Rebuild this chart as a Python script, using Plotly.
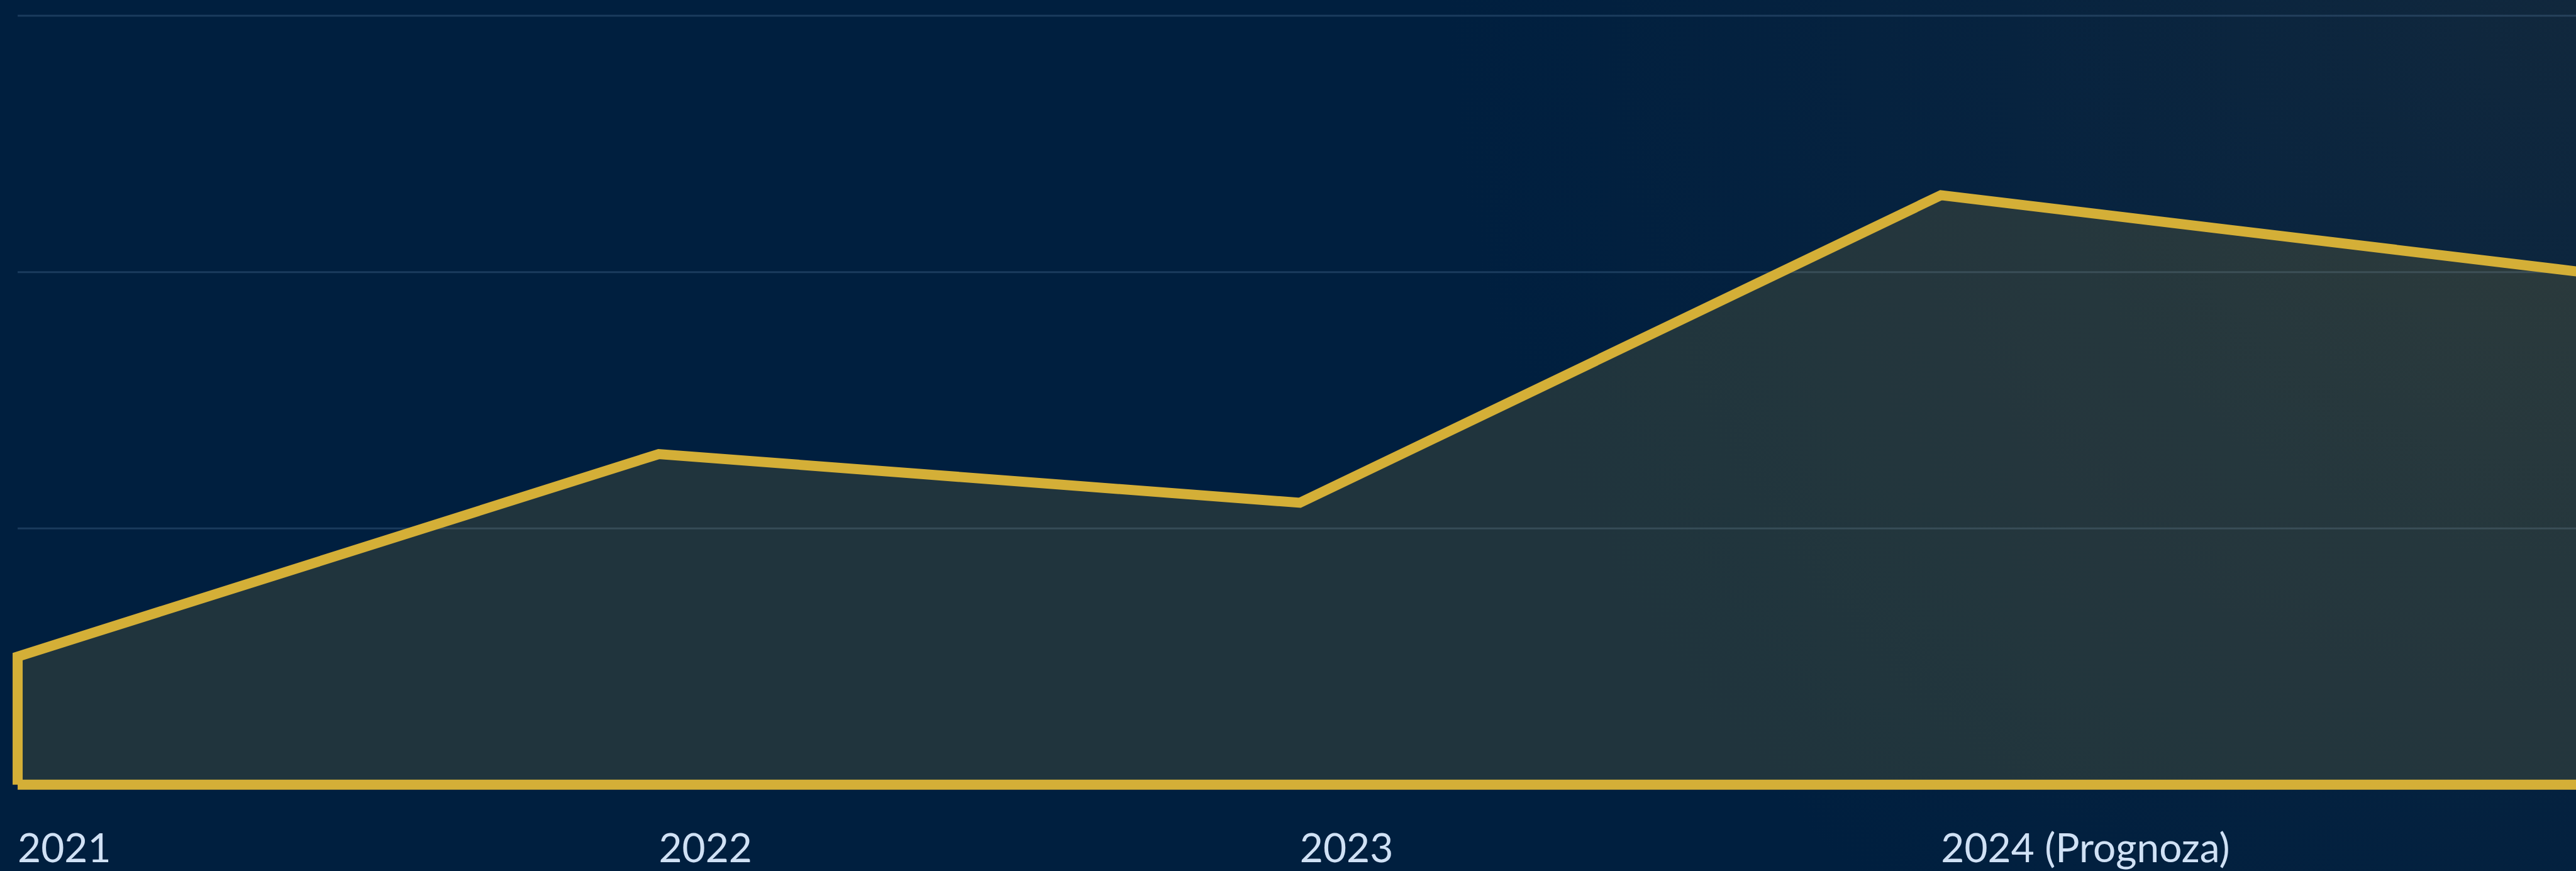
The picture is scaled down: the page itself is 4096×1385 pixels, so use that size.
import base64
import plotly.graph_objects as go

# ---- data ----
categories = ["2021", "2022", "2023", "2024 (Prognoza)", "2025 (Prognoza)"]
values = [5.0, 12.9, 11.0, 23.0, 20.0]
grid_values = [0, 10, 20, 30]

# ---- styling ----
S = 0.85
W, H = 4096, 1385
BG = "#001F3F"
GOLD = "#D4AF37"
FILL = "rgba(212,175,55,0.15)"
GRID = "rgba(120,160,200,0.22)"
LABEL = "#D0E1F5"

idx = list(range(len(categories)))
# closed outline: baseline -> values -> back to baseline
poly_x = [idx[0]] + idx + [idx[-1], idx[0]]
poly_y = [0] + values + [0, 0]

fig = go.Figure()
fig.add_trace(go.Scatter(
    x=poly_x, y=poly_y, mode="lines", fill="toself", fillcolor=FILL,
    line=dict(color=GOLD, width=16), hoverinfo="skip", showlegend=False,
))

for g in grid_values:
    fig.add_shape(type="line", xref="x", yref="y", x0=idx[0], x1=idx[-1] + 1,
                  y0=g, y1=g, line=dict(color=GRID, width=3), layer="below")

# background soft glow (top right)
svg = f'''<svg xmlns="http://www.w3.org/2000/svg" width="{W}" height="{H}" viewBox="0 0 {W} {H}" preserveAspectRatio="none">
<defs><radialGradient id="g" gradientUnits="userSpaceOnUse" cx="{W}" cy="0" r="1800">
<stop offset="0" stop-color="#11283D"/><stop offset="0.5" stop-color="#07233F"/><stop offset="1" stop-color="{BG}"/>
</radialGradient></defs><rect width="{W}" height="{H}" fill="url(#g)"/></svg>'''
src = "data:image/svg+xml;base64," + base64.b64encode(svg.encode()).decode()

plot_bottom = 1300
px_per_unit = 479.5 * S / 10
base_px = 1468 * S
y_top = base_px / px_per_unit
y_bot = (base_px - plot_bottom) / px_per_unit
step_px = 1199.3 * S
x0_px = 33 * S
x_left = -x0_px / step_px
x_right = (W - x0_px) / step_px

fig.add_layout_image(dict(source=src, xref="paper", yref="paper", x=0, y=1,
                          sizex=1, sizey=H / plot_bottom, sizing="stretch",
                          xanchor="left", yanchor="top", layer="below"))

fig.update_layout(
    width=W, height=H, autosize=False,
    margin=dict(l=0, r=0, t=0, b=H - plot_bottom, pad=0, autoexpand=False),
    paper_bgcolor=BG, plot_bgcolor="rgba(0,0,0,0)",
    xaxis=dict(range=[x_left, x_right], tickvals=idx[:4], ticktext=categories[:4],
               showgrid=False, zeroline=False, showline=False, ticks="",
               automargin=False,
               ticklabelposition="outside right", ticklabelstandoff=6,
               tickfont=dict(family="Lato", size=64, color=LABEL, weight=400)),
    yaxis=dict(range=[y_bot, y_top], showgrid=False, zeroline=False, automargin=False,
               showline=False, showticklabels=False, ticks=""),
)

fig.write_html("out.html")
